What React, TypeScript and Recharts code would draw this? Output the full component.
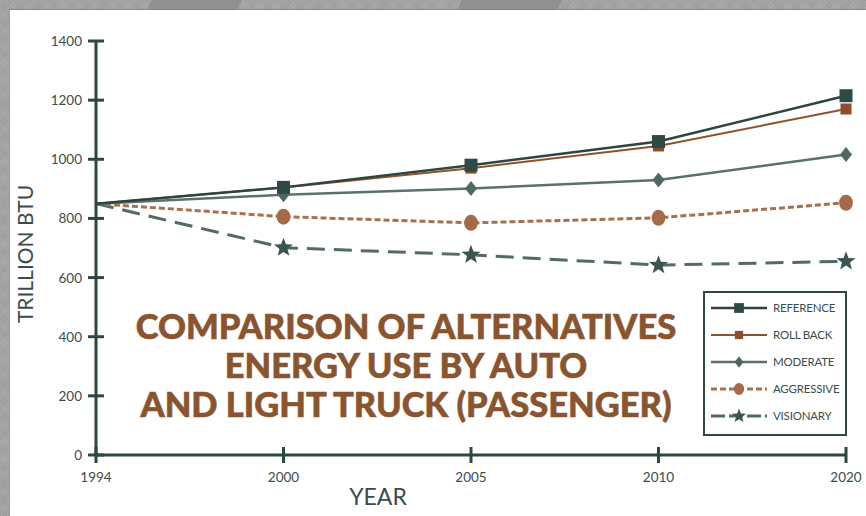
import { LineChart, Line, XAxis, YAxis, Legend, Label } from 'recharts';

const YEARS = ['1994', '2000', '2005', '2010', '2020'];
const REFERENCE = [850, 905, 980, 1060, 1215];
const ROLL_BACK = [850, 905, 970, 1045, 1170];
const MODERATE = [850, 880, 901, 930, 1016];
const AGGRESSIVE = [850, 806, 785, 802, 853];
const VISIONARY = [850, 701, 677, 642, 655];
const Y_TICKS = [0, 200, 400, 600, 800, 1000, 1200, 1400];

const TITLE = ['COMPARISON OF ALTERNATIVES', 'ENERGY USE BY AUTO', 'AND LIGHT TRUCK (PASSENGER)'];

const AXIS = '#2d4743';
const TEXT = '#3b4d4a';
const FONT = 'Lato, "Open Sans", sans-serif';

type Marker = 'square' | 'diamond' | 'circle' | 'star';

interface Series {
  key: string;
  name: string;
  values: number[];
  stroke: string;
  fill: string;
  width: number;
  dash?: string;
  legendDash?: string;
  marker: Marker;
  size: number;
}

// legend order
const SERIES: Series[] = [
  { key: 'reference', name: 'REFERENCE', values: REFERENCE, stroke: '#2b4541', fill: '#2e4a46', width: 2.5, marker: 'square', size: 13 },
  { key: 'rollback', name: 'ROLL BACK', values: ROLL_BACK, stroke: '#93502d', fill: '#8f4d2c', width: 2, marker: 'square', size: 11 },
  { key: 'moderate', name: 'MODERATE', values: MODERATE, stroke: '#58716e', fill: '#4e6865', width: 2.5, marker: 'diamond', size: 15 },
  { key: 'aggressive', name: 'AGGRESSIVE', values: AGGRESSIVE, stroke: '#a8704e', fill: '#a66a49', width: 3, dash: '6 3', legendDash: '6 3', marker: 'circle', size: 16 },
  { key: 'visionary', name: 'VISIONARY', values: VISIONARY, stroke: '#526b68', fill: '#3b5652', width: 3, dash: '18 9', legendDash: '14 4', marker: 'star', size: 20 },
];

// draw order: reference on top
const DRAW_ORDER = ['visionary', 'aggressive', 'moderate', 'rollback', 'reference'];

const data = YEARS.map((year, i) => {
  const row: Record<string, string | number> = { year };
  SERIES.forEach((s) => {
    row[s.key] = s.values[i];
  });
  return row;
});

function drawMarker(marker: Marker, cx: number, cy: number, size: number, fill: string) {
  const h = size / 2;
  if (marker === 'square') {
    return <rect x={cx - h} y={cy - h} width={size} height={size} fill={fill} />;
  }
  if (marker === 'diamond') {
    const w = size * 0.4;
    return <polygon points={`${cx},${cy - h} ${cx + w},${cy} ${cx},${cy + h} ${cx - w},${cy}`} fill={fill} />;
  }
  if (marker === 'circle') {
    return <ellipse cx={cx} cy={cy} rx={size * 0.43} ry={h} fill={fill} />;
  }
  const pts: string[] = [];
  for (let k = 0; k < 10; k++) {
    const r = k % 2 === 0 ? h : h * 0.42;
    const a = ((-90 + k * 36) * Math.PI) / 180;
    pts.push(`${cx + r * Math.cos(a)},${cy + r * Math.sin(a)}`);
  }
  return <polygon points={pts.join(' ')} fill={fill} />;
}

const YTick = (props: any) => {
  const { x, y, payload } = props;
  return (
    <g>
      <line x1={x - 8} x2={x + 8} y1={y} y2={y} stroke={AXIS} strokeWidth={3} />
      <text x={x - 14} y={y} dy={5} textAnchor="end" fontSize={13.5} fill={TEXT} fontFamily={FONT}>
        {payload.value}
      </text>
    </g>
  );
};

const XTick = (props: any) => {
  const { x, y, payload } = props;
  return (
    <g>
      <line x1={x} x2={x} y1={y - 8} y2={y + 8} stroke={AXIS} strokeWidth={3} />
      <text x={x} y={y + 27} textAnchor="middle" fontSize={13.5} fill={TEXT} fontFamily={FONT}>
        {payload.value}
      </text>
    </g>
  );
};

const LegendBox = () => (
  <div
    style={{
      width: 144,
      height: 145,
      boxSizing: 'border-box',
      border: `2px solid ${AXIS}`,
      background: '#fff',
      padding: '1px 0 0 4px',
      fontFamily: FONT,
    }}
  >
    {SERIES.map((s) => (
      <div key={s.key} style={{ display: 'flex', alignItems: 'center', height: 27 }}>
        <svg width={60} height={22}>
          <line x1={2} x2={58} y1={11} y2={11} stroke={s.stroke} strokeWidth={s.width} strokeDasharray={s.legendDash} />
          {drawMarker(s.marker, 30, 11, s.size * 0.75, s.fill)}
        </svg>
        <span style={{ marginLeft: 4, fontSize: 11.5, letterSpacing: -0.2, color: TEXT }}>{s.name}</span>
      </div>
    ))}
  </div>
);

export default function App() {
  return (
    <div
      style={{
        position: 'absolute',
        left: 0,
        top: 0,
        width: 866,
        height: 516,
        overflow: 'hidden',
        backgroundColor: '#adadad',
        backgroundImage:
          'repeating-linear-gradient(45deg, rgba(0,0,0,0.06) 0 1px, transparent 1px 2px), repeating-linear-gradient(-45deg, rgba(0,0,0,0.06) 0 1px, transparent 1px 2px)',
      }}
    >
      <div style={{ position: 'absolute', left: 150, top: -4, width: 90, height: 16, background: '#909090', transform: 'skewX(-25deg)' }} />
      <div style={{ position: 'absolute', left: 460, top: -4, width: 100, height: 16, background: '#909090', transform: 'skewX(-25deg)' }} />
      <div
        style={{
          position: 'absolute',
          left: 9,
          top: 9,
          right: 0,
          bottom: 0,
          background: '#fff',
          borderTop: '1px solid #7f8a88',
          borderLeft: '1px solid #9a9a9a',
        }}
      />
      <div style={{ position: 'absolute', left: 0, top: 0 }}>
        <LineChart width={866} height={516} data={data} margin={{ top: 41, right: 20, bottom: 0, left: 0 }}>
          <XAxis
            dataKey="year"
            height={61}
            axisLine={{ stroke: AXIS, strokeWidth: 3 }}
            tickLine={false}
            tickSize={0}
            tickMargin={0}
            tick={<XTick />}
            interval={0}
          >
            <Label
              content={(p: any) => {
                const vb = p.viewBox;
                return (
                  <text x={vb.x + 282} y={vb.y + 50} textAnchor="middle" fontSize={23} fill={TEXT} fontFamily={FONT}>
                    YEAR
                  </text>
                );
              }}
            />
          </XAxis>
          <YAxis
            width={96}
            type="number"
            domain={[0, 1400]}
            ticks={Y_TICKS}
            interval={0}
            axisLine={{ stroke: AXIS, strokeWidth: 3 }}
            tickLine={false}
            tickSize={0}
            tickMargin={0}
            tick={<YTick />}
          >
            <Label
              content={(p: any) => {
                const vb = p.viewBox;
                const cx = vb.x + 24;
                const cy = vb.y + vb.height / 2 + 6;
                return (
                  <text
                    x={cx}
                    y={cy}
                    transform={`rotate(-90 ${cx} ${cy})`}
                    textAnchor="middle"
                    dominantBaseline="central"
                    fontSize={21}
                    fill={TEXT}
                    fontFamily={FONT}
                  >
                    TRILLION BTU
                  </text>
                );
              }}
            />
          </YAxis>
          {DRAW_ORDER.map((k) => {
            const s = SERIES.find((d) => d.key === k)!;
            return (
              <Line
                key={s.key}
                type="linear"
                dataKey={s.key}
                name={s.name}
                stroke={s.stroke}
                strokeWidth={s.width}
                strokeDasharray={s.dash}
                isAnimationActive={false}
                activeDot={false}
                dot={(p: any) => (
                  <g key={`${s.key}-${p.index}`}>
                    {p.index === 0 ? null : drawMarker(s.marker, p.cx, p.cy, s.size, s.fill)}
                  </g>
                )}
              />
            );
          })}
          <Legend
            layout="vertical"
            align="center"
            verticalAlign="middle"
            wrapperStyle={{ left: 703, top: 291, width: 144, height: 145 }}
            content={<LegendBox />}
          />
        </LineChart>
      </div>
      <div
        style={{
          position: 'absolute',
          left: 0,
          top: 306,
          width: 812,
          textAlign: 'center',
          fontFamily: FONT,
          fontWeight: 900,
          fontSize: 34.5,
          lineHeight: '39px',
          color: '#8a542f',
          WebkitTextStroke: '0.6px #8a542f',
        }}
      >
        {TITLE.map((t) => (
          <div key={t}>{t}</div>
        ))}
      </div>
    </div>
  );
}
